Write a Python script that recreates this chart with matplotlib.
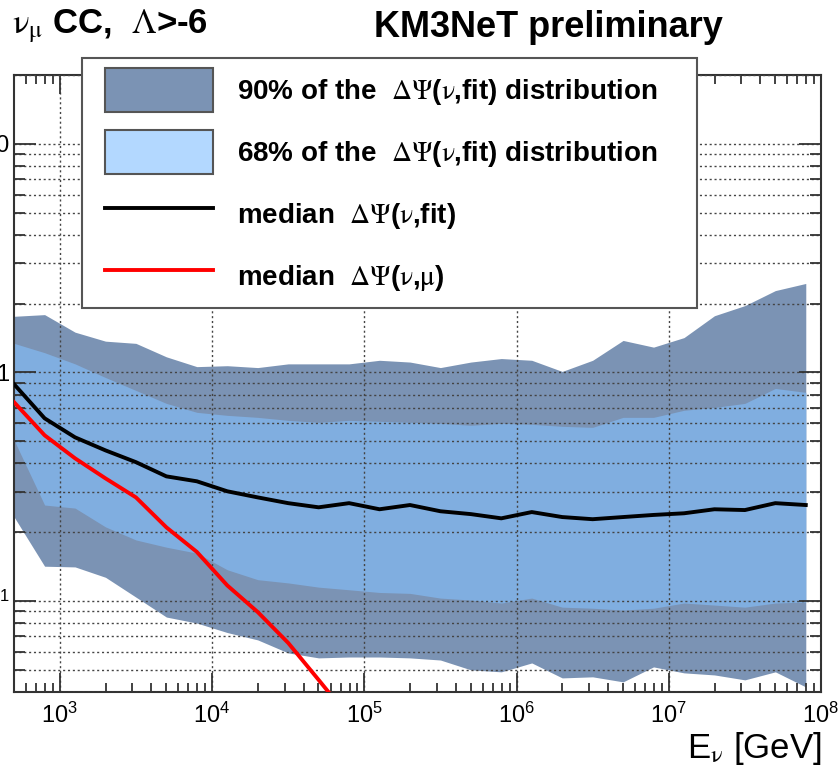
import numpy as np
import matplotlib
matplotlib.use('Agg')
import matplotlib.pyplot as plt
from matplotlib.ticker import FixedLocator, FixedFormatter, LogLocator, NullFormatter
from matplotlib.patches import Patch, Rectangle
from matplotlib.lines import Line2D
from matplotlib.legend_handler import HandlerLine2D
from matplotlib.font_manager import FontProperties

plt.rcParams['font.family'] = ['Liberation Sans', 'DejaVu Sans']
plt.rcParams['mathtext.fontset'] = 'custom'
plt.rcParams['mathtext.rm'] = 'Liberation Sans'
plt.rcParams['mathtext.it'] = 'Liberation Sans:italic'
plt.rcParams['mathtext.bf'] = 'Liberation Sans:bold'

# ---- data ----
log10_energy = [2.7, 2.9, 3.1, 3.3, 3.5, 3.7, 3.9, 4.1, 4.3, 4.5, 4.7, 4.9, 5.1, 5.3,
                5.5, 5.7, 5.9, 6.1, 6.3, 6.5, 6.7, 6.9, 7.1, 7.3, 7.5, 7.7, 7.9]
median_fit = [0.887, 0.63, 0.52, 0.456, 0.405, 0.351, 0.334, 0.302, 0.284, 0.268, 0.257,
              0.268, 0.252, 0.263, 0.247, 0.240, 0.230, 0.245, 0.233, 0.228, 0.233, 0.238,
              0.242, 0.252, 0.250, 0.268, 0.263]
median_mu = [0.74, 0.531, 0.421, 0.344, 0.284, 0.21, 0.164, 0.117, 0.0895, 0.0656, 0.0452,
             0.031, np.nan, np.nan, np.nan, np.nan, np.nan, np.nan, np.nan, np.nan, np.nan,
             np.nan, np.nan, np.nan, np.nan, np.nan, np.nan]
band90_hi = [1.76, 1.79, 1.50, 1.37, 1.34, 1.17, 1.06, 1.07, 1.05, 1.09, 1.09, 1.09, 1.13,
             1.11, 1.05, 1.11, 1.15, 1.13, 1.01, 1.13, 1.38, 1.29, 1.42, 1.77, 1.96, 2.28, 2.45]
band68_hi = [1.34, 1.22, 1.09, 0.95, 0.834, 0.732, 0.669, 0.649, 0.636, 0.617, 0.605, 0.617,
             0.611, 0.605, 0.599, 0.587, 0.599, 0.593, 0.581, 0.575, 0.636, 0.636, 0.683,
             0.703, 0.732, 0.851, 0.818]
band68_lo = [0.505, 0.263, 0.255, 0.211, 0.185, 0.172, 0.162, 0.137, 0.124, 0.120, 0.115,
             0.112, 0.109, 0.108, 0.103, 0.101, 0.098, 0.103, 0.094, 0.093, 0.0913, 0.093,
             0.098, 0.096, 0.094, 0.098, 0.099]
band90_lo = [0.233, 0.142, 0.141, 0.127, 0.104, 0.0851, 0.0801, 0.0728, 0.0676, 0.0593, 0.0564,
             0.0569, 0.0569, 0.0564, 0.0552, 0.050, 0.049, 0.0536, 0.0461, 0.0466, 0.0443,
             0.0515, 0.0485, 0.0475, 0.0452, 0.049, 0.0421]

x_major_ticks = [1e3, 1e4, 1e5, 1e6, 1e7, 1e8]
x_tick_labels = [r'$10^{3}$', r'$10^{4}$', r'$10^{5}$', r'$10^{6}$', r'$10^{7}$', r'$10^{8}$']
y_major_ticks = [0.1, 1, 10]
y_tick_labels = [r'$10^{-1}$', '1', '10']

legend_labels = [r'90% of the  $\Delta\Psi$($\mathrm{\nu}$,fit) distribution',
                 r'68% of the  $\Delta\Psi$($\mathrm{\nu}$,fit) distribution',
                 r'median  $\Delta\Psi$($\mathrm{\nu}$,fit)',
                 r'median  $\Delta\Psi$($\mathrm{\nu}$,$\mathrm{\mu}$)']

energy = [10 ** v for v in log10_energy]

c90 = '#7B93B4'
c68 = '#80AEE0'
c68_leg = '#B3D8FF'

W, H = 838, 770
fig = plt.figure(figsize=(W / 100, H / 100), dpi=100)
ax = fig.add_axes([14 / W, 78 / H, 807 / W, 617 / H])
ax.set_xscale('log')
ax.set_yscale('log')
ax.set_xlim(500, 1e8)
ax.set_ylim(0.04, 20)

ax.fill_between(energy, band90_lo, band90_hi, color=c90, lw=0, zorder=1)
ax.fill_between(energy, band68_lo, band68_hi, color=c68, lw=0, zorder=1.1)
ax.plot(energy, median_fit, color='black', lw=2.8, zorder=3)
ax.plot(energy, median_mu, color='red', lw=2.8, zorder=3)

ax.xaxis.set_major_locator(FixedLocator(x_major_ticks))
ax.xaxis.set_major_formatter(FixedFormatter(x_tick_labels))
ax.xaxis.set_minor_locator(LogLocator(base=10, subs=range(2, 10), numticks=30))
ax.xaxis.set_minor_formatter(NullFormatter())
ax.yaxis.set_major_locator(FixedLocator(y_major_ticks))
ax.yaxis.set_major_formatter(FixedFormatter(y_tick_labels))
ax.yaxis.set_minor_locator(LogLocator(base=10, subs=range(2, 10), numticks=30))
ax.yaxis.set_minor_formatter(NullFormatter())

ax.tick_params(axis='both', which='both', direction='in', top=True, right=True,
               color='#333333', width=1.3)
ax.tick_params(axis='x', which='major', length=13.5, labelsize=17, pad=8)
ax.tick_params(axis='x', which='minor', length=6.5)
ax.tick_params(axis='y', which='major', length=16, labelsize=17, pad=3)
ax.tick_params(axis='y', which='minor', length=8)

ax.set_axisbelow(False)
grid_ls = (0, (1.5, 2.0))
ax.xaxis.grid(True, which='major', ls=grid_ls, color='#444444', lw=1.0)
ax.yaxis.grid(True, which='both', ls=grid_ls, color='#444444', lw=1.0)

for s in ax.spines.values():
    s.set_color('#333333')
    s.set_linewidth(1.5)

ax.set_xlabel(r'E$_{\mathrm{\nu}}$ [GeV]', loc='right', fontsize=25, labelpad=1,
              math_fontfamily='stix')

fig.text(12 / W, 1 - 33 / H, r'$\mathrm{\nu}_{\mathrm{\mu}}$ CC,  $\Lambda$>-6', fontsize=25,
         weight='bold', math_fontfamily='stix', ha='left', va='baseline')
fig.text(723 / W, 1 - 37 / H, 'KM3NeT preliminary', fontsize=26, weight='bold',
         ha='right', va='baseline')

# legend frame + legend
frame = Rectangle((82 / W, 1 - 308 / H), 615 / W, 250 / H, transform=fig.transFigure,
                  facecolor='white', edgecolor='#555555', lw=1.5, zorder=5, clip_on=False)
ax.add_patch(frame)
handles = [Patch(facecolor=c90, edgecolor='#555555', lw=1.5),
           Patch(facecolor=c68_leg, edgecolor='#555555', lw=1.5),
           Line2D([], [], color='black', lw=2.8),
           Line2D([], [], color='red', lw=2.8)]
prop = FontProperties(family=['Liberation Sans', 'DejaVu Sans'], weight='bold', size=20,
                      math_fontfamily='stix')
leg = ax.legend(handles, legend_labels, loc='upper left',
                bbox_to_anchor=(105 / W, 1 - 68 / H), bbox_transform=fig.transFigure,
                frameon=False, borderpad=0, borderaxespad=0, handlelength=3.9,
                handleheight=2.06, handletextpad=0.86, labelspacing=0.65, prop=prop,
                handler_map={Line2D: HandlerLine2D(ypad=0.237)})
leg.set_zorder(6)

fig.savefig('out.png', dpi=100)
